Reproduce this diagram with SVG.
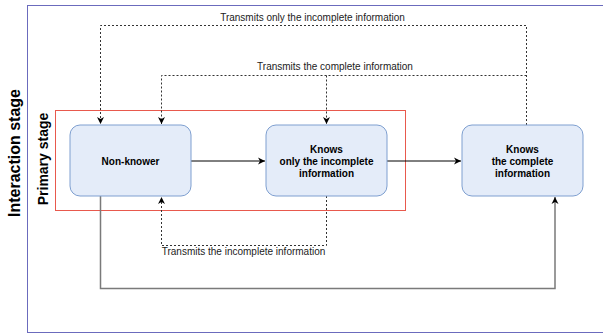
<svg xmlns="http://www.w3.org/2000/svg" width="603" height="333" viewBox="0 0 603 333">
<defs>
<style>
.node{fill:#e4ecf9;stroke:#7e9fd0;stroke-width:1}
.nt{font-family:"Liberation Sans",Arial,sans-serif;font-size:10px;font-weight:bold;fill:#000;text-anchor:middle}
.lbl{font-family:"Liberation Sans",Arial,sans-serif;font-size:10px;fill:#222;text-anchor:middle}
.dot{fill:none;stroke:#333;stroke-width:1;stroke-dasharray:2 2}
.solid{fill:none;stroke:#000;stroke-width:1}
.gray{fill:none;stroke:#7a7a7a;stroke-width:1.5}
.stage{font-family:"Liberation Sans",Arial,sans-serif;font-weight:bold;fill:#000;text-anchor:middle}
</style>
<marker id="ah" markerWidth="8" markerHeight="8" refX="7" refY="4" orient="auto" markerUnits="userSpaceOnUse">
<path d="M0,0.5 L7,4 L0,7.5 L2,4 Z" fill="#000"/>
</marker>
</defs>
<rect x="27.5" y="5.5" width="600" height="327" fill="none" stroke="#6b6bbd" stroke-width="1"/>
<text class="stage" font-size="16" transform="translate(20,153) rotate(-90)">Interaction stage</text>
<g id="primary-stage">
<rect x="55.5" y="110.5" width="350" height="100" fill="none" stroke="#e8594d" stroke-width="1"/>
<text class="stage" font-size="14" transform="translate(48,159) rotate(-90)">Primary stage</text>
</g>
<g id="connectors">
<path class="dot" d="M526.5,125 V25.5 H100.5 V124" marker-end="url(#ah)"/>
<path class="dot" d="M526.5,75.5 H161.5 V124" marker-end="url(#ah)"/>
<path class="dot" d="M326.5,75.5 V124" marker-end="url(#ah)"/>
<path class="dot" d="M326.5,196 V245.5 H161.5 V197" marker-end="url(#ah)"/>
<path class="solid" d="M191,161 H265" marker-end="url(#ah)"/>
<path class="solid" d="M387,161 H461" marker-end="url(#ah)"/>
<path class="gray" d="M100.5,196 V288.5 H555 V197" marker-end="url(#ah)"/>
<text class="lbl" x="312.5" y="21">Transmits only the incomplete information</text>
<text class="lbl" x="335" y="70">Transmits the complete information</text>
<text class="lbl" x="243.5" y="255">Transmits the incomplete information</text>
</g>
<g id="non-knower">
<rect class="node" x="70" y="125" width="121" height="71" rx="10" ry="10"/>
<text class="nt" x="130.5" y="164.5">Non-knower</text>
</g>
<g id="knows-incomplete">
<rect class="node" x="266" y="125" width="121" height="71" rx="10" ry="10"/>
<text class="nt" x="326.5" y="152.5">Knows</text>
<text class="nt" x="326.5" y="164.5">only the incomplete</text>
<text class="nt" x="326.5" y="176.5">information</text>
</g>
<g id="knows-complete">
<rect class="node" x="462" y="125" width="121" height="71" rx="10" ry="10"/>
<text class="nt" x="522.5" y="152.5">Knows</text>
<text class="nt" x="522.5" y="164.5">the complete</text>
<text class="nt" x="522.5" y="176.5">information</text>
</g>
</svg>
